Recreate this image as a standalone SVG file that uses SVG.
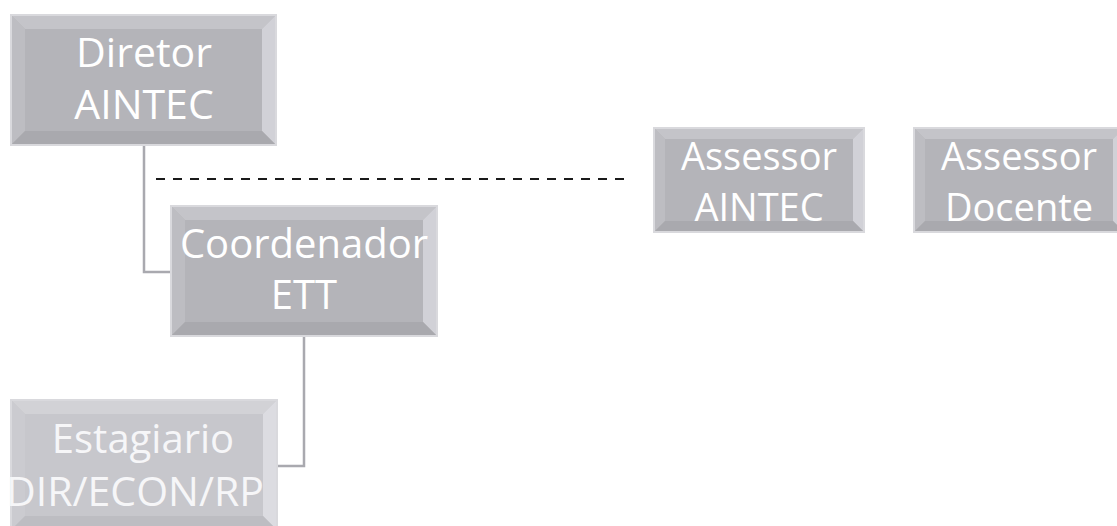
<svg xmlns="http://www.w3.org/2000/svg" width="1117" height="526" viewBox="0 0 1117 526">
  <style>
    .frame { fill: none; stroke: #d9d9dd; stroke-width: 2; }
    .face { fill: #b4b4b9; }
    .bt { fill: #c4c4c9; }
    .bl { fill: #bdbdc2; }
    .br { fill: #d1d1d7; }
    .bb { fill: #a9a9ae; }
    .soft .face { fill: #c7c7cc; }
    .soft .bt { fill: #d2d2d6; }
    .soft .bl { fill: #cbcbd0; }
    .soft .br { fill: #dcdce1; }
    .soft .bb { fill: #bdbdc2; }
    .label { font-family: "Open Sans", "Noto Sans", sans-serif; fill: #ffffff; text-anchor: middle; }
    .soft .label { fill: #f6f6f8; }
    .link { fill: none; stroke: #a9a9af; stroke-width: 2.5; }
    .dash { fill: none; stroke: #1a1a1a; stroke-width: 2; stroke-dasharray: 9 8; }
  </style>
  <rect width="1117" height="526" fill="#ffffff"/>

  <!-- connectors -->
  <g id="connectors">
    <polyline class="link" points="144,146 144,272 171,272"/>
    <polyline class="link" points="304,337 304,466 277,466"/>
    <line class="dash" x1="156" y1="179" x2="626" y2="179"/>
  </g>

  <!-- Diretor AINTEC -->
  <g id="diretor">
    <rect class="frame" x="11" y="15" width="265" height="130"/>
    <rect class="face" x="12" y="16" width="263" height="128"/>
    <polygon class="bt" points="12,16 275,16 262,29 25,29"/>
    <polygon class="bl" points="12,16 25,29 25,131 12,144"/>
    <polygon class="br" points="275,16 275,144 262,131 262,29"/>
    <polygon class="bb" points="12,144 25,131 262,131 275,144"/>
    <text class="label" font-size="41" x="144" y="67">Diretor</text>
    <text class="label" font-size="41" x="144" y="119">AINTEC</text>
  </g>

  <!-- Coordenador ETT -->
  <g id="coordenador">
    <rect class="frame" x="171" y="206" width="266" height="130"/>
    <rect class="face" x="172" y="207" width="264" height="128"/>
    <polygon class="bt" points="172,207 436,207 423,220 185,220"/>
    <polygon class="bl" points="172,207 185,220 185,322 172,335"/>
    <polygon class="br" points="436,207 436,335 423,322 423,220"/>
    <polygon class="bb" points="172,335 185,322 423,322 436,335"/>
    <text class="label" font-size="40" x="304" y="258">Coordenador</text>
    <text class="label" font-size="40" x="304" y="309">ETT</text>
  </g>

  <!-- Estagiario DIR/ECON/RP -->
  <g id="estagiario" class="soft">
    <rect class="frame" x="11" y="400" width="266" height="130"/>
    <rect class="face" x="12" y="401" width="264" height="128"/>
    <polygon class="bt" points="12,401 276,401 263,414 25,414"/>
    <polygon class="bl" points="12,401 25,414 25,516 12,529"/>
    <polygon class="br" points="276,401 276,529 263,516 263,414"/>
    <polygon class="bb" points="12,529 25,516 263,516 276,529"/>
    <text class="label" font-size="40" x="143" y="453">Estagiario</text>
    <text class="label" font-size="41" x="135" y="506">DIR/ECON/RP</text>
  </g>

  <!-- Assessor AINTEC -->
  <g id="assessor-aintec">
    <rect class="frame" x="654" y="128" width="210" height="104"/>
    <rect class="face" x="655" y="129" width="208" height="102"/>
    <polygon class="bt" points="655,129 863,129 853,139 665,139"/>
    <polygon class="bl" points="655,129 665,139 665,221 655,231"/>
    <polygon class="br" points="863,129 863,231 853,221 853,139"/>
    <polygon class="bb" points="655,231 665,221 853,221 863,231"/>
    <text class="label" font-size="38" x="759" y="170">Assessor</text>
    <text class="label" font-size="38" x="759" y="221">AINTEC</text>
  </g>

  <!-- Assessor Docente -->
  <g id="assessor-docente">
    <rect class="frame" x="914" y="128" width="210" height="104"/>
    <rect class="face" x="915" y="129" width="208" height="102"/>
    <polygon class="bt" points="915,129 1123,129 1113,139 925,139"/>
    <polygon class="bl" points="915,129 925,139 925,221 915,231"/>
    <polygon class="br" points="1123,129 1123,231 1113,221 1113,139"/>
    <polygon class="bb" points="915,231 925,221 1113,221 1123,231"/>
    <text class="label" font-size="38" x="1019" y="170">Assessor</text>
    <text class="label" font-size="38" x="1019" y="221">Docente</text>
  </g>
</svg>
